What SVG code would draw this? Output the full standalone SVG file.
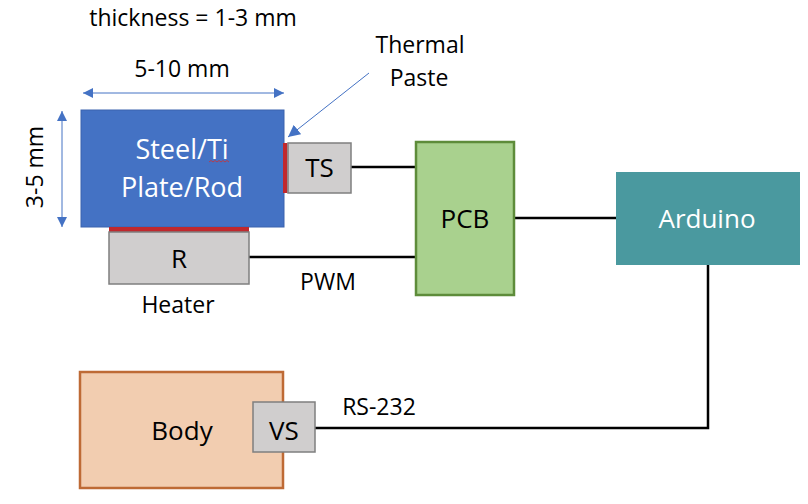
<svg xmlns="http://www.w3.org/2000/svg" width="808" height="504" viewBox="0 0 808 504">
<style>
text{font-family:"Open Sans","Liberation Sans",sans-serif;text-anchor:middle;fill:#000}
.big{font-size:27px}
.mid{font-size:26px}
.lbl{font-size:23px}
.wht{fill:#fff}
.grey{fill:#D0CECE;stroke:#7F7F7F;stroke-width:1.5}
.paste{fill:#C0282D}
.wire{fill:none;stroke:#000;stroke-width:2.5}
.dim{stroke:#4472C4;stroke-width:1}
</style>
<defs>
<marker id="ah" viewBox="0 0 10 10" refX="10" refY="5" markerWidth="10" markerHeight="10" markerUnits="userSpaceOnUse" orient="auto-start-reverse">
<path d="M0,0 L10,5 L0,10 Z" fill="#4472C4"/>
</marker>
<marker id="ah2" viewBox="0 0 10 10" refX="10" refY="5" markerWidth="12" markerHeight="12" markerUnits="userSpaceOnUse" orient="auto">
<path d="M0,0 L10,5 L0,10 Z" fill="#4472C4"/>
</marker>
</defs>
<rect width="808" height="504" fill="#fff"/>

<g id="connectors">
<line class="wire" x1="351" y1="167" x2="416" y2="167"/>
<line class="wire" x1="249" y1="257" x2="416" y2="257"/>
<line class="wire" x1="514" y1="218" x2="616" y2="218"/>
<path class="wire" d="M708,265 V428 H315"/>
<line class="dim" x1="83" y1="93" x2="284" y2="93" marker-start="url(#ah)" marker-end="url(#ah)"/>
<line class="dim" x1="62" y1="111" x2="62" y2="227" marker-start="url(#ah)" marker-end="url(#ah)"/>
<line class="dim" x1="369" y1="73" x2="288" y2="137" stroke="#5B7BC8" marker-end="url(#ah2)"/>
</g>

<g id="labels">
<text class="lbl" x="193" y="26">thickness = 1-3 mm</text>
<text class="lbl" x="182" y="77">5-10 mm</text>
<text class="lbl" x="420" y="53">Thermal</text>
<text class="lbl" x="419" y="86">Paste</text>
<text class="lbl" transform="translate(43,167) rotate(-90)">3-5 mm</text>
<text class="lbl" x="178" y="313">Heater</text>
<text class="lbl" x="328" y="290">PWM</text>
<text class="lbl" x="379" y="415">RS-232</text>
</g>

<g id="plate">
<rect x="81" y="110" width="203" height="117" fill="#4472C4" stroke="#3A63AE" stroke-width="1"/>
<text class="big wht" x="182" y="159">Steel/Ti</text>
<text class="big wht" x="182" y="197">Plate/Rod</text>
<path d="M209,162 l2,-1.5 l2,1.5 l2,-1.5 l2,1.5 l2,-1.5 l2,1.5 l2,-1.5 l2,1.5 l2,-1.5 l2,1.5" fill="none" stroke="#D03030" stroke-width="0.8"/>
</g>

<g id="paste-side">
<rect class="paste" x="283" y="143" width="4.5" height="50"/>
</g>

<g id="paste-bottom">
<rect class="paste" x="109" y="227" width="140" height="5"/>
</g>

<g id="ts">
<rect class="grey" x="288" y="143" width="63" height="50"/>
<text class="mid" x="319.5" y="177">TS</text>
</g>

<g id="heater">
<rect class="grey" x="109" y="232" width="140" height="52"/>
<text class="mid" x="179" y="268">R</text>
</g>

<g id="pcb">
<rect x="416" y="142" width="98" height="153" fill="#A9D18E" stroke="#5E8C3A" stroke-width="2.5"/>
<text class="mid" x="465" y="228">PCB</text>
</g>

<g id="arduino">
<rect x="616" y="172" width="184" height="93" fill="#4A999F"/>
<text class="mid wht" x="707" y="228">Arduino</text>
</g>

<g id="body">
<rect x="80" y="372" width="203" height="116" fill="#F2CDB0" stroke="#BE6A35" stroke-width="2.5"/>
<text class="mid" x="182" y="440">Body</text>
</g>

<g id="vs">
<rect class="grey" x="253" y="402" width="62" height="50"/>
<text class="mid" x="284" y="440">VS</text>
</g>
</svg>
